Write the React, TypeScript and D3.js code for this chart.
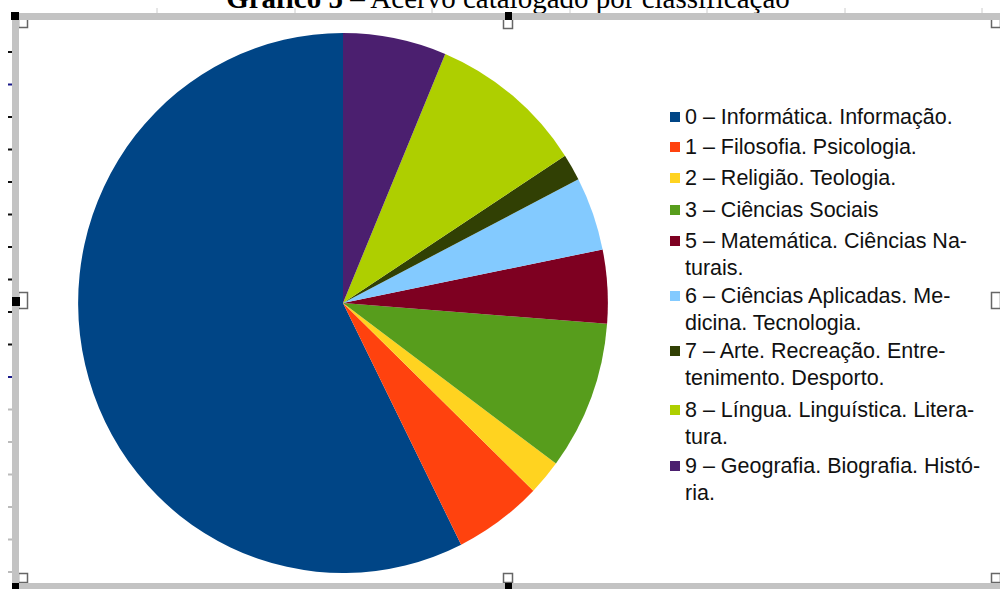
import { useEffect, useRef } from "react";
import * as d3 from "d3";

const categories = [
  "0 – Informática. Informação.",
  "1 – Filosofia. Psicologia.",
  "2 – Religião. Teologia.",
  "3 – Ciências Sociais",
  "5 – Matemática. Ciências Naturais.",
  "6 – Ciências Aplicadas. Medicina. Tecnologia.",
  "7 – Arte. Recreação. Entretenimento. Desporto.",
  "8 – Língua. Linguística. Literatura.",
  "9 – Geografia. Biografia. História.",
];

// legend text as it is hyphenated in the picture
const legendLines = [
  ["0 – Informática. Informação."],
  ["1 – Filosofia. Psicologia."],
  ["2 – Religião. Teologia."],
  ["3 – Ciências Sociais"],
  ["5 – Matemática. Ciências Na-", "turais."],
  ["6 – Ciências Aplicadas. Me-", "dicina. Tecnologia."],
  ["7 – Arte. Recreação. Entre-", "tenimento. Desporto."],
  ["8 – Língua. Linguística. Litera-", "tura."],
  ["9 – Geografia. Biografia. Histó-", "ria."],
];

const values = [57.3, 5.4, 2.1, 8.9, 4.4, 4.4, 1.6, 9.5, 6.3];

const colors = [
  "#004586",
  "#ff420e",
  "#ffd320",
  "#579d1c",
  "#7e0021",
  "#83caff",
  "#314004",
  "#aecf00",
  "#4b1f6f",
];

const title = { bold: "Gráfico 5", rest: " – Acervo catalogado por classificação" };

export default function App() {
  const ref = useRef<SVGSVGElement | null>(null);

  useEffect(() => {
    const width = 1000;
    const height = 589;
    const svg = d3.select(ref.current!);
    svg.selectAll("*").remove();
    svg.attr("viewBox", `0 0 ${width} ${height}`);

    svg.append("rect").attr("width", width).attr("height", height).attr("fill", "#fff");

    // title, cut off by the top of the window (as in the screenshot)
    const t = svg
      .append("text")
      .attr("x", 508)
      .attr("y", 8)
      .attr("text-anchor", "middle")
      .style("font", "29px 'Liberation Serif', 'Times New Roman', serif")
      .style("fill", "#000");
    t.append("tspan").style("font-weight", "bold").text(title.bold);
    t.append("tspan").text(title.rest);

    // pie (LibreOffice style: starts at 12 o'clock, counter-clockwise)
    const data = categories.map((c, i) => ({ name: c, value: values[i], color: colors[i] }));
    const pie = d3
      .pie<{ name: string; value: number; color: string }>()
      .sort(null)
      .value((d) => d.value)
      .startAngle(0)
      .endAngle(-2 * Math.PI);
    const arc = d3
      .arc<d3.PieArcDatum<{ name: string; value: number; color: string }>>()
      .innerRadius(0)
      .outerRadius(270);

    const g = svg.append("g").attr("transform", "translate(343,303) scale(0.981,1)");
    g.selectAll("path")
      .data(pie(data))
      .join("path")
      .attr("d", arc)
      .attr("fill", (d) => d.data.color);

    // legend
    const rowY = d3
      .scaleOrdinal<number, number>()
      .domain(d3.range(9))
      .range([117, 147, 178, 210, 241, 296, 351, 410, 466]);
    const lg = svg.append("g");
    legendLines.forEach((lines, i) => {
      const y = rowY(i);
      lg.append("rect")
        .attr("x", 670)
        .attr("y", y - 5)
        .attr("width", 10)
        .attr("height", 10)
        .attr("fill", colors[i]);
      lines.forEach((line, j) => {
        lg.append("text")
          .attr("x", 685)
          .attr("y", y + j * 27)
          .attr("dominant-baseline", "central")
          .style("font", "21.5px 'Liberation Sans', Arial, sans-serif")
          .style("fill", "#111")
          .text(line);
      });
    });

    // selection frame of the embedded object
    const frame = svg.append("g");
    const gray = "#c3c3c3";
    // ruler ticks above top bar
    [157, 295, 432, 570, 707, 845, 982].forEach((x) => {
      frame.append("line").attr("x1", x).attr("x2", x).attr("y1", 8).attr("y2", 13).attr("stroke", "#ccc");
    });
    // ruler ticks on the left
    d3.range(51, 580, 32.5).forEach((y, i) => {
      frame
        .append("rect")
        .attr("x", 8)
        .attr("y", y)
        .attr("width", 4)
        .attr("height", 2)
        .attr("fill", i === 1 || i === 10 ? "#1a1a8a" : i < 11 ? "#111" : "#bbb");
    });
    // white handles
    const whites = [
      [20, 20, 9, 9],
      [505, 20, 9, 10],
      [20, 294, 9, 16],
      [993, 294, 9, 16],
      [20, 575, 9, 9],
      [505, 575, 9, 9],
      [993, 575, 9, 9],
      [993, 20, 9, 9],
    ];
    whites.forEach(([x, y, w, h]) => {
      frame
        .append("rect")
        .attr("x", x - 1.5)
        .attr("y", y - 1.5)
        .attr("width", w)
        .attr("height", h)
        .attr("fill", "#fff")
        .attr("stroke", "#666")
        .attr("stroke-width", 1.5);
    });
    frame.append("rect").attr("x", 12).attr("y", 13).attr("width", width - 12).attr("height", 7).attr("fill", gray);
    frame.append("rect").attr("x", 12).attr("y", 13).attr("width", 7).attr("height", height - 13).attr("fill", gray);
    frame.append("rect").attr("x", 12).attr("y", 583).attr("width", width - 12).attr("height", 6).attr("fill", gray);
    // black handles
    [
      [11, 12, 8, 8],
      [505, 12, 7, 8],
      [12, 297, 8, 9],
      [12, 583, 7, 6],
      [505, 583, 7, 6],
    ].forEach(([x, y, w, h]) => {
      frame.append("rect").attr("x", x).attr("y", y).attr("width", w).attr("height", h).attr("fill", "#000");
    });
  }, []);

  return (
    <div style={{ position: "absolute", left: 0, top: 0 }}>
      <svg ref={ref} width={1000} height={589} style={{ display: "block" }} />
    </div>
  );
}
